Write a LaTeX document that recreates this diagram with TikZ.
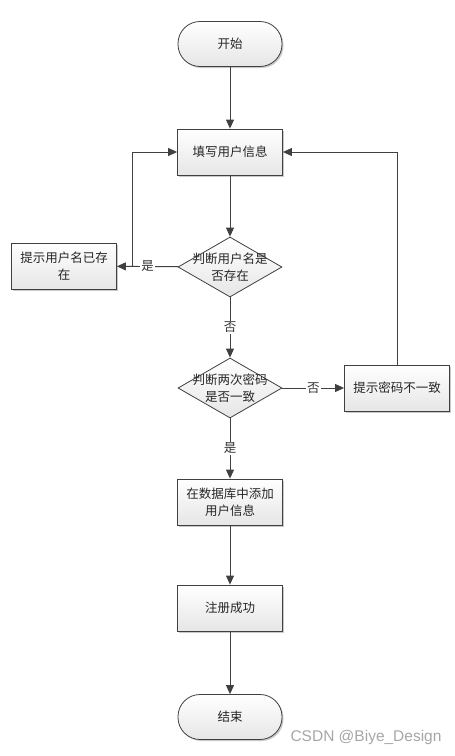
\documentclass[tikz,border=0pt]{standalone}
\usepackage{fontspec}
\newfontfamily\cjk{Noto Sans CJK SC}
\setsansfont{Liberation Sans}
\usepackage{xcolor}
\usetikzlibrary{arrows.meta,positioning,calc,shapes.geometric,shadows}

\definecolor{linegray}{HTML}{404040}
\definecolor{boxgray}{HTML}{E6E6E6}

\begin{document}
\begin{tikzpicture}[
  x=1pt,y=-1pt,
  flow/.style={-{Triangle[length=9pt,width=8pt]},draw=linegray,line width=0.9pt},
  plainflow/.style={draw=linegray,line width=0.9pt},
  proc/.style={draw=linegray,line width=0.8pt,minimum width=105pt,
               minimum height=46pt,top color=white,bottom color=boxgray,
               drop shadow={shadow xshift=1.5pt,shadow yshift=-1.5pt,
                            fill=gray!60,opacity=0.7},
               align=center,inner sep=2pt},
  term/.style={draw=linegray,line width=0.8pt,minimum width=104pt,
               minimum height=45pt,rounded corners=22pt,top color=white,
               bottom color=boxgray,
               drop shadow={shadow xshift=1.5pt,shadow yshift=-1.5pt,
                            fill=gray!60,opacity=0.7}},
  decision/.style={diamond,draw=linegray,line width=0.8pt,inner sep=0pt,
                   minimum width=104pt,minimum height=60pt,aspect=1.73,
                   top color=white,bottom color=boxgray},
  tag/.style={fill=white,inner sep=1pt,text=black!80},
  every node/.style={font=\cjk\fontsize{12.5}{17}\selectfont,text=black!85}
]
\useasboundingbox (0,0) rectangle (455,756);

% main column
\node[term] (start) at (230,44) {开始};
\node[proc] (fill) at (230,152) {填写用户信息};
\node[decision] (chkname) at (230,267) {};
\node[align=center] (chknametxt) at (chkname) {判断用户名是\\否存在};
\node[decision] (chkpwd) at (230,388) {};
\node[align=center] (chkpwdtxt) at (chkpwd) {判断两次密码\\是否一致};
\node[proc] (save) at (230,502) {在数据库中添加\\用户信息};
\node[proc] (ok) at (230,608) {注册成功};
\node[term] (stop) at (230,717) {结束};

% side boxes
\node[proc] (nameexists) at (64,266) {提示用户名已存\\在};
\node[proc] (pwddiff) at (397,388) {提示密码不一致};

\draw[flow] (start) -- (fill);
\draw[flow] (fill) -- (chkname);
\draw[flow] (chkname) -- node[tag] {是} (nameexists);
\draw[flow] (chkname) -- node[tag] {否} (chkpwd);
\draw[flow] (chkpwd) -- node[tag] {否} (pwddiff);
\draw[flow] (chkpwd) -- node[tag] {是} (save);
\draw[flow] (save) -- (ok);
\draw[flow] (ok) -- (stop);

% loops back to the form
\coordinate (back) at (132,266);
\draw[flow] (back) |- (fill.west);
\draw[flow] (pwddiff.north) |- (fill.east);

% watermark
\node[anchor=west,font=\sffamily\fontsize{15.5}{17}\selectfont,text=gray!70]
  (mark) at (287,737) {CSDN @Biye\_Design};
\end{tikzpicture}
\end{document}
